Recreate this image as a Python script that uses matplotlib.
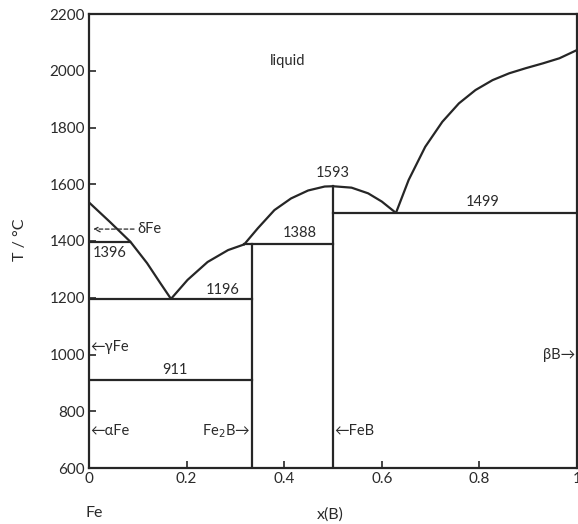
import matplotlib
matplotlib.use("Agg")
import matplotlib.pyplot as plt

# ---- data ----
# liquidus, Fe-rich branch (Fe melting point down to first eutectic)
liq1_x = [0.0, 0.043, 0.085, 0.119, 0.146, 0.168]
liq1_T = [1536, 1467, 1397, 1322, 1252, 1196]
# liquidus, eutectic to Fe2B peritectic corner
liq2_x = [0.168, 0.202, 0.243, 0.285, 0.318]
liq2_T = [1196, 1263, 1326, 1368, 1388]
# liquidus over FeB (congruent melting at 1593)
liq3_x = [0.318, 0.346, 0.380, 0.414, 0.449, 0.483, 0.50, 0.538, 0.572, 0.600, 0.629]
liq3_T = [1388, 1445, 1509, 1550, 1578, 1592, 1593, 1588, 1568, 1539, 1499]
# liquidus, B-rich branch
liq4_x = [0.629, 0.655, 0.689, 0.724, 0.758, 0.792, 0.827, 0.861, 0.895, 0.930, 0.964, 1.0]
liq4_T = [1499, 1615, 1732, 1820, 1885, 1932, 1967, 1991, 2009, 2026, 2044, 2073]

# invariant / transformation lines: (x_start, x_end, T)
horiz_lines = [(0.0, 0.085, 1396), (0.0, 1/3, 1196), (0.0, 1/3, 911),
               (0.318, 0.5, 1388), (0.5, 1.0, 1499)]
# compound lines: (x, T_top)
vert_lines = [(1/3, 1388), (0.5, 1593)]

temp_labels = ["1396", "1196", "911", "1388", "1593", "1499"]

x_ticks = [0, 0.2, 0.4, 0.6, 0.8, 1]
x_ticklabels = ["0", "0.2", "0.4", "0.6", "0.8", "1"]
y_ticks = [600, 800, 1000, 1200, 1400, 1600, 1800, 2000, 2200]

# ---- drawing ----
plt.rcParams['font.family'] = ['Lato', 'DejaVu Sans']
fig = plt.figure(figsize=(5.78, 5.24), dpi=100)
ax = fig.add_axes([89/578, 1 - 468/524, (577-89)/578, (468-14)/524])

lc = '#262626'
lw = 1.6
for xs, Ts in [(liq1_x, liq1_T), (liq2_x, liq2_T), (liq3_x, liq3_T), (liq4_x, liq4_T)]:
    ax.plot(xs, Ts, color=lc, lw=lw, solid_capstyle='round', solid_joinstyle='round')
for x0, x1, T in horiz_lines:
    ax.plot([x0, x1], [T, T], color=lc, lw=lw)
for x, Ttop in vert_lines:
    ax.plot([x, x], [600, Ttop], color=lc, lw=lw)

ax.set_xlim(0, 1)
ax.set_ylim(600, 2200)
ax.set_xticks(x_ticks)
ax.set_xticklabels(x_ticklabels)
ax.set_yticks(y_ticks)
ax.tick_params(direction='in', length=5, width=1.2, colors=lc, labelsize=11,
               labelcolor='#2a2a2a', pad=3)
for s in ax.spines.values():
    s.set_linewidth(1.6)
    s.set_color(lc)

fs = 10.5
tc = '#2a2a2a'
ax.text(0.408, 2034, "liquid", ha='center', va='center', fontsize=fs, color=tc)
ax.text(0.007, 1358, temp_labels[0], ha='left', va='center', fontsize=fs, color=tc)
ax.text(0.274, 1226, temp_labels[1], ha='center', va='center', fontsize=fs, color=tc)
ax.text(0.177, 945, temp_labels[2], ha='center', va='center', fontsize=fs, color=tc)
ax.text(0.431, 1428, temp_labels[3], ha='center', va='center', fontsize=fs, color=tc)
ax.text(0.50, 1640, temp_labels[4], ha='center', va='center', fontsize=fs, color=tc)
ax.text(0.806, 1536, temp_labels[5], ha='center', va='center', fontsize=fs, color=tc)

# phase labels with arrows
ax.annotate("", xy=(0.003, 1442), xytext=(0.098, 1442),
            arrowprops=dict(arrowstyle='->', color=tc, lw=0.9, linestyle=(0, (3, 2))))
ax.text(0.100, 1442, "δFe", ha='left', va='center', fontsize=fs, color=tc)
ax.text(0.002, 1026, "←γFe", ha='left', va='center', fontsize=fs, color=tc)
ax.text(0.002, 730, "←αFe", ha='left', va='center', fontsize=fs, color=tc)
ax.text(0.330, 730, "Fe$_2$B→", ha='right', va='center', fontsize=fs, color=tc)
ax.text(0.503, 730, "←FeB", ha='left', va='center', fontsize=fs, color=tc)
ax.text(0.997, 1000, "βB→", ha='right', va='center', fontsize=fs, color=tc)

# axis texts below
fig.text(94/578, 1 - 513/524, "Fe", ha='center', va='center', fontsize=11.5, color=tc)
fig.text(330/578, 1 - 515/524, "x(B)", ha='center', va='center', fontsize=11.5, color=tc)
fig.text(576/578, 1 - 513/524, "B", ha='left', va='center', fontsize=11.5, color=tc)
fig.text(20/578, 1 - 240/524, "T / °C", ha='center', va='center', rotation=90,
         fontsize=11.5, color=tc)

fig.savefig("out.png", dpi=100)
